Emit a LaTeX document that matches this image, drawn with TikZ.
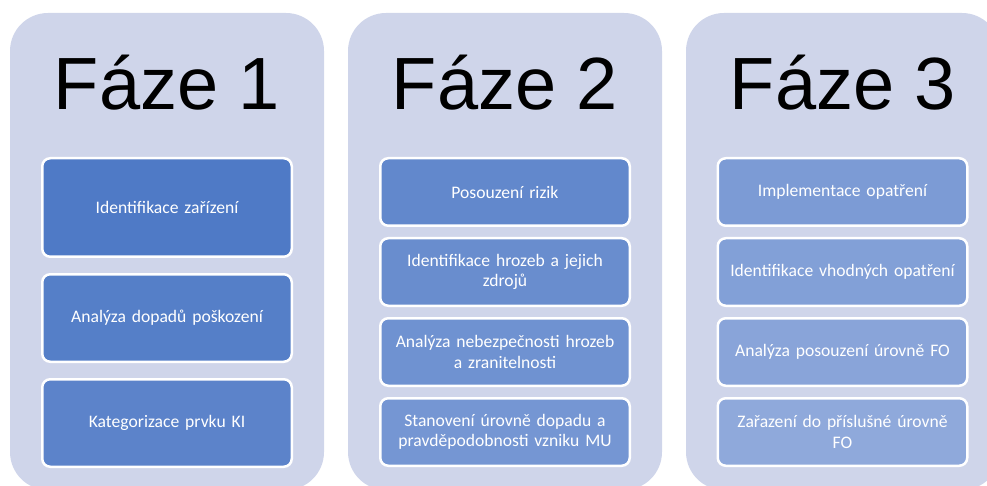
\documentclass[tikz,border=0pt]{standalone}
\usepackage{fontspec}
\setmainfont{Liberation Sans}
\newfontfamily\boxfont[Ligatures=Common]{Carlito}
\definecolor{panelbg}{RGB}{207,213,234}
\definecolor{c0}{RGB}{79,122,198}
\definecolor{c1}{RGB}{85,127,200}
\definecolor{c2}{RGB}{92,131,202}
\definecolor{c3}{RGB}{98,136,204}
\definecolor{c4}{RGB}{105,141,206}
\definecolor{c5}{RGB}{111,146,209}
\definecolor{c6}{RGB}{117,150,211}
\definecolor{c7}{RGB}{124,155,213}
\definecolor{c8}{RGB}{130,160,215}
\definecolor{c9}{RGB}{137,164,217}
\definecolor{c10}{RGB}{143,169,219}
\tikzset{
  panel/.style={fill=panelbg, draw=none, rounded corners=38pt, minimum width=314pt, minimum height=477pt, inner sep=0pt, outer sep=0pt},
  head/.style={anchor=base, font=\fontsize{74}{80}\selectfont, text=black, inner sep=0pt},
  stepbox/.style={draw=white, line width=2.5pt, rounded corners=8pt, minimum width=249.5pt, text width=240pt, align=center, text=white, font=\boxfont\fontsize{17.6}{20.5}\selectfont, inner sep=0pt},
}
\begin{document}
\begin{tikzpicture}[x=1pt,y=-1pt]
\useasboundingbox (0,0) rectangle (987,486);
\clip (0,0) rectangle (987,486);
% panels
\node[panel] (p1) at (167,251.5) {};
\node[panel] (p2) at (505,251.5) {};
\node[panel] (p3) at (843,251.5) {};
% headers
\node[head] (h1) at (167,110) {Fáze 1};
\node[head] (h2) at (505,110) {Fáze 2};
\node[head] (h3) at (843,110) {Fáze 3};
% phase 1
\node[stepbox, fill=c0, minimum height=98.5pt] (a1) at (167,207.5) {Identifikace zařízení};
\node[stepbox, fill=c1, minimum height=87.5pt] (a2) at (167,318) {Analýza dopadů poškození};
\node[stepbox, fill=c2, minimum height=87.5pt] (a3) at (167,423) {Kategorizace prvku KI};
% phase 2
\node[stepbox, fill=c3, minimum height=67.5pt] (b1) at (505,192) {Posouzení rizik};
\node[stepbox, fill=c4, minimum height=67.5pt] (b2) at (505,272) {Identifikace hrozeb a jejich\\zdrojů};
\node[stepbox, fill=c5, minimum height=67.5pt] (b3) at (505,352) {Analýza nebezpečnosti hrozeb\\a zranitelnosti};
\node[stepbox, fill=c6, minimum height=67.5pt] (b4) at (505,432) {Stanovení úrovně dopadu a\\pravděpodobnosti vzniku MU};
% phase 3
\node[stepbox, fill=c7, minimum height=67.5pt] (d1) at (842.5,192) {Implementace opatření};
\node[stepbox, fill=c8, minimum height=67.5pt] (d2) at (842.5,272) {Identifikace vhodných opatření};
\node[stepbox, fill=c9, minimum height=67.5pt] (d3) at (842.5,352) {Analýza posouzení úrovně FO};
\node[stepbox, fill=c10, minimum height=67.5pt] (d4) at (842.5,432) {Zařazení do příslušné úrovně\\FO};
\end{tikzpicture}
\end{document}
